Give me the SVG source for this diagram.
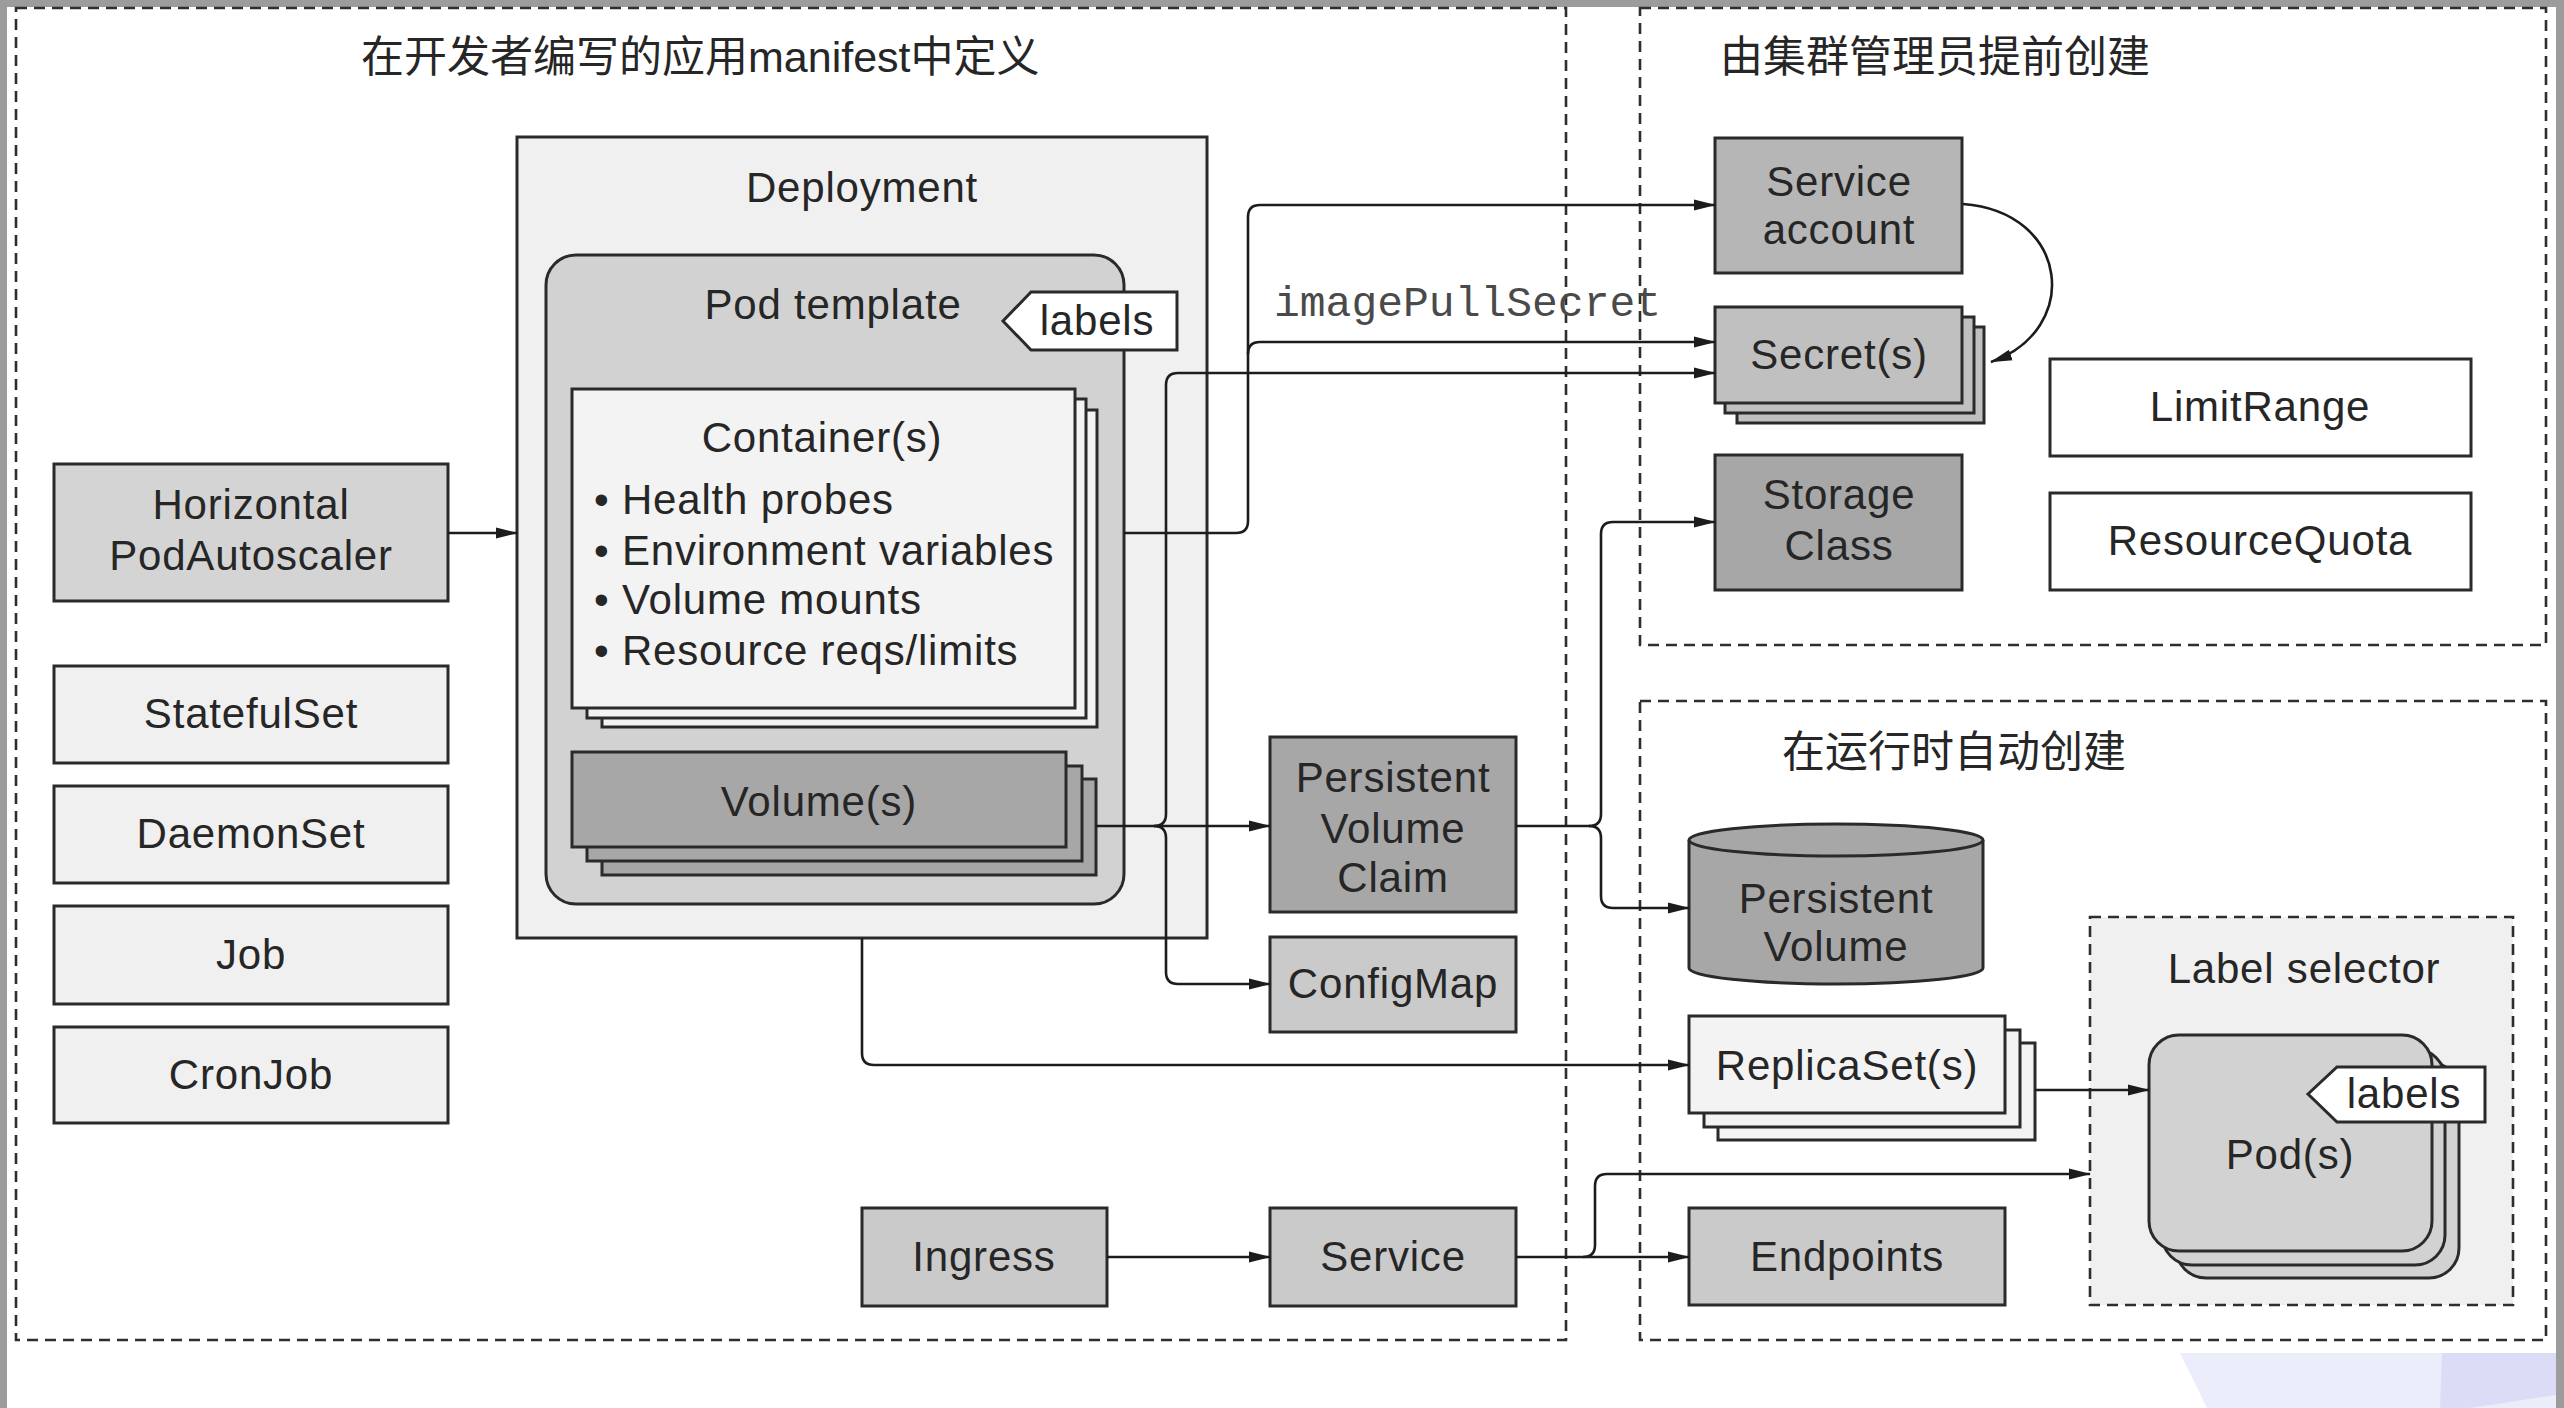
<svg xmlns="http://www.w3.org/2000/svg" width="2564" height="1408" viewBox="0 0 2564 1408">
<defs>
<style>
.box{stroke:#2a2a2a;stroke-width:3}
.dash{fill:none;stroke:#2e2e2e;stroke-width:2.6;stroke-dasharray:11 7}
.light{fill:#f0f0f0}
.white{fill:#ffffff}
.mid{fill:#cacaca}
.hpa{fill:#d4d4d4}
.dark{fill:#a7a7a7}
.sa{fill:#b6b6b6}
.sec{fill:#c0c0c0}
.pod{fill:#d2d2d2}
.t{font-family:"Liberation Sans",Arial,"Noto Sans CJK SC",sans-serif;font-size:42px;letter-spacing:0.8px;fill:#262626;text-anchor:middle}
.ts{font-family:"Liberation Sans",Arial,"Noto Sans CJK SC",sans-serif;font-size:42px;letter-spacing:0.8px;fill:#262626;text-anchor:start}
.cjk{font-family:"Liberation Sans","Noto Sans CJK SC",sans-serif;font-size:43px;fill:#262626}
.mono{font-family:"Liberation Mono","Courier New",monospace;font-size:43px;fill:#4a4a4a}
.ln{fill:none;stroke:#1c1c1c;stroke-width:2.6}
.arr{marker-end:url(#ah)}
</style>
<marker id="ah" markerUnits="userSpaceOnUse" markerWidth="22" markerHeight="12" refX="21" refY="6" orient="auto">
<path d="M0,0.5 L22,6 L0,11.5 z" fill="#1c1c1c"/>
</marker>
</defs>

<rect x="0" y="0" width="2564" height="1408" fill="#ffffff"/>
<g id="frame">
<rect x="0" y="0" width="2564" height="7" fill="#9c9c9c"/>
<rect x="0" y="0" width="7" height="1408" fill="#9c9c9c"/>
<rect x="2556" y="0" width="8" height="1408" fill="#9c9c9c"/>
<polygon points="2180,1353 2556,1353 2556,1408 2207,1408" fill="#ecedfb"/>
<polygon points="2442,1353 2556,1353 2556,1395 2470,1408 2440,1408" fill="#dcdcf7"/>
</g>

<g id="regions">
<rect class="dash" x="16" y="8" width="1550" height="1332"/>
<rect class="dash" x="1640" y="8" width="906" height="637"/>
<rect class="dash" x="1640" y="701" width="906" height="639"/>
<text class="cjk" x="361" y="72">在开发者编写的应用manifest中定义</text>
<text class="cjk" x="1720" y="72">由集群管理员提前创建</text>
<text class="cjk" x="1782" y="767">在运行时自动创建</text>
</g>

<g id="deployment">
<rect class="box light" x="517" y="137" width="690" height="801"/>
<text class="t" x="862" y="202">Deployment</text>
</g>

<g id="pod-template">
<rect class="box pod" x="546" y="255" width="578" height="649" rx="30"/>
<text class="t" x="833" y="319">Pod template</text>
<polygon class="box white" points="1003,321 1031,292 1177,292 1177,350 1031,350"/>
<text class="t" x="1097" y="335">labels</text>
</g>

<g id="containers">
<rect class="box" fill="#f3f3f3" x="602" y="410" width="495" height="317"/>
<rect class="box" fill="#f3f3f3" x="587" y="399" width="499" height="319"/>
<rect class="box" fill="#f3f3f3" x="572" y="389" width="503" height="319"/>
<text class="t" x="822" y="452">Container(s)</text>
<text class="ts" x="594" y="514">• Health probes</text>
<text class="ts" x="594" y="565">• Environment variables</text>
<text class="ts" x="594" y="614">• Volume mounts</text>
<text class="ts" x="594" y="665">• Resource reqs/limits</text>
</g>

<g id="volumes">
<rect class="box dark" x="602" y="779" width="494" height="96"/>
<rect class="box dark" x="587" y="766" width="495" height="95"/>
<rect class="box dark" x="572" y="752" width="494" height="95"/>
<text class="t" x="819" y="816">Volume(s)</text>
</g>

<g id="hpa">
<rect class="box hpa" x="54" y="464" width="394" height="137"/>
<text class="t" x="251" y="519">Horizontal</text>
<text class="t" x="251" y="570">PodAutoscaler</text>
</g>

<g id="statefulset">
<rect class="box light" x="54" y="666" width="394" height="97"/>
<text class="t" x="251" y="728">StatefulSet</text>
</g>
<g id="daemonset">
<rect class="box light" x="54" y="786" width="394" height="97"/>
<text class="t" x="251" y="848">DaemonSet</text>
</g>
<g id="job">
<rect class="box light" x="54" y="906" width="394" height="98"/>
<text class="t" x="251" y="969">Job</text>
</g>
<g id="cronjob">
<rect class="box light" x="54" y="1027" width="394" height="96"/>
<text class="t" x="251" y="1089">CronJob</text>
</g>

<g id="ingress">
<rect class="box mid" x="862" y="1208" width="245" height="98"/>
<text class="t" x="984" y="1271">Ingress</text>
</g>
<g id="service">
<rect class="box mid" x="1270" y="1208" width="246" height="98"/>
<text class="t" x="1393" y="1271">Service</text>
</g>
<g id="pvc">
<rect class="box dark" x="1270" y="737" width="246" height="175"/>
<text class="t" x="1393" y="792">Persistent</text>
<text class="t" x="1393" y="843">Volume</text>
<text class="t" x="1393" y="892">Claim</text>
</g>
<g id="configmap">
<rect class="box mid" x="1270" y="937" width="246" height="95"/>
<text class="t" x="1393" y="998">ConfigMap</text>
</g>

<g id="service-account">
<rect class="box sa" x="1715" y="138" width="247" height="135"/>
<text class="t" x="1839" y="196">Service</text>
<text class="t" x="1839" y="244">account</text>
</g>
<g id="secrets">
<rect class="box sec" x="1737" y="327" width="247" height="96"/>
<rect class="box sec" x="1725" y="317" width="249" height="96"/>
<rect class="box sec" x="1715" y="307" width="247" height="96"/>
<text class="t" x="1839" y="369">Secret(s)</text>
</g>
<g id="storage-class">
<rect class="box dark" x="1715" y="455" width="247" height="135"/>
<text class="t" x="1839" y="509">Storage</text>
<text class="t" x="1839" y="560">Class</text>
</g>
<g id="limitrange">
<rect class="box white" x="2050" y="359" width="421" height="97"/>
<text class="t" x="2260" y="421">LimitRange</text>
</g>
<g id="resourcequota">
<rect class="box white" x="2050" y="493" width="421" height="97"/>
<text class="t" x="2260" y="555">ResourceQuota</text>
</g>

<g id="persistent-volume">
<path class="box dark" d="M1689,840 A147,16 0 0 1 1983,840 V968 A147,16 0 0 1 1689,968 Z"/>
<path class="box" fill="none" d="M1689,840 A147,16 0 0 0 1983,840"/>
<text class="t" x="1836" y="913">Persistent</text>
<text class="t" x="1836" y="961">Volume</text>
</g>

<g id="replicasets">
<rect class="box" fill="#f3f3f3" x="1718" y="1043" width="317" height="97"/>
<rect class="box" fill="#f3f3f3" x="1704" y="1030" width="316" height="97"/>
<rect class="box" fill="#f3f3f3" x="1689" y="1016" width="316" height="97"/>
<text class="t" x="1847" y="1080">ReplicaSet(s)</text>
</g>

<g id="endpoints">
<rect class="box mid" x="1689" y="1208" width="316" height="97"/>
<text class="t" x="1847" y="1271">Endpoints</text>
</g>

<g id="label-selector">
<rect x="2090" y="917" width="423" height="388" fill="#f0f0f0" stroke="#2e2e2e" stroke-width="2.6" stroke-dasharray="11 7"/>
<text class="t" x="2304" y="983">Label selector</text>
</g>

<g id="pods">
<rect class="box pod" x="2176" y="1062" width="283" height="216" rx="30"/>
<rect class="box pod" x="2162" y="1049" width="283" height="216" rx="30"/>
<rect class="box pod" x="2149" y="1035" width="283" height="216" rx="30"/>
<text class="t" x="2290" y="1169">Pod(s)</text>
<polygon class="box white" points="2308,1094 2337,1067 2485,1067 2485,1122 2337,1122"/>
<text class="t" x="2404" y="1108">labels</text>
</g>

<g id="connectors">
<path class="ln arr" d="M448,533 H517"/>
<path class="ln arr" d="M1124,533 H1236 Q1248,533 1248,521 V217 Q1248,205 1260,205 H1715"/>
<path class="ln arr" d="M1248,354 Q1248,342 1260,342 H1715"/>
<text class="mono" x="1274" y="316">imagePullSecret</text>
<path class="ln arr" d="M1096,826 H1270"/>
<path class="ln arr" d="M1154,826 Q1166,826 1166,814 V385 Q1166,373 1178,373 H1715"/>
<path class="ln arr" d="M1154,826 Q1166,826 1166,838 V972 Q1166,984 1178,984 H1270"/>
<path class="ln" d="M1516,826 H1590"/>
<path class="ln arr" d="M1589,826 Q1601,826 1601,814 V534 Q1601,522 1613,522 H1715"/>
<path class="ln arr" d="M1589,826 Q1601,826 1601,838 V896 Q1601,908 1613,908 H1689"/>
<path class="ln arr" d="M862,938 V1053 Q862,1065 874,1065 H1689"/>
<path class="ln arr" d="M2035,1090 H2149"/>
<path class="ln arr" d="M1107,1257 H1270"/>
<path class="ln arr" d="M1516,1257 H1689"/>
<path class="ln arr" d="M1583,1257 Q1595,1257 1595,1245 V1186 Q1595,1174 1607,1174 H2090"/>
<path class="ln arr" d="M1963,204 C2070,212 2082,330 1991,362"/>
</g>
</svg>
